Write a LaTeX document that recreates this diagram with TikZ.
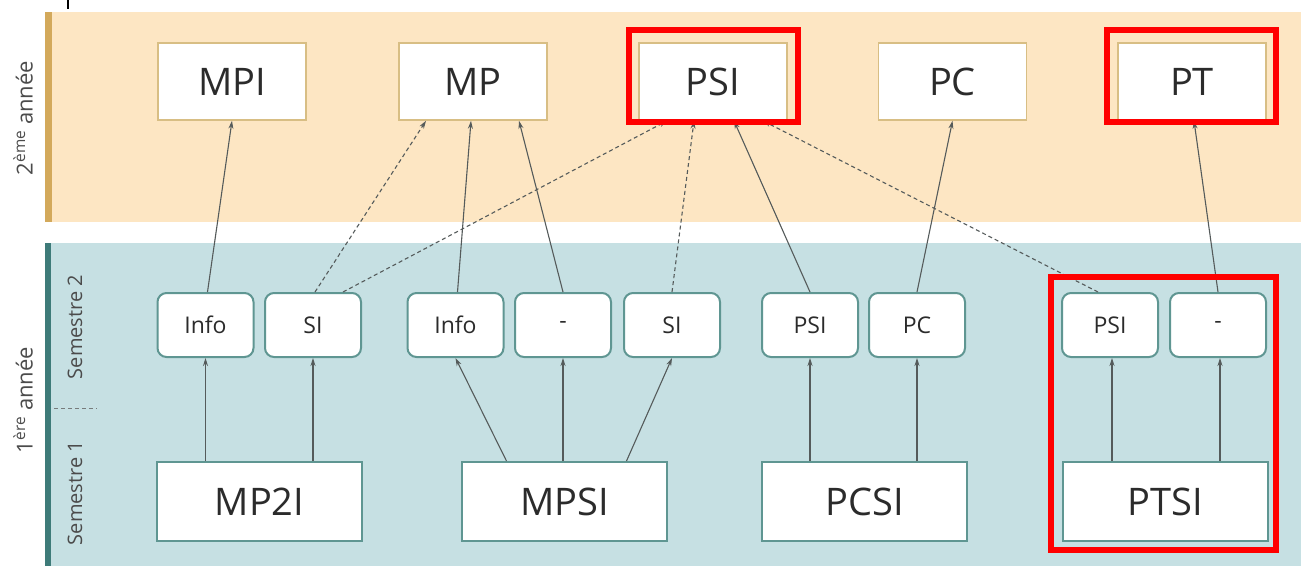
\documentclass[tikz,border=0pt]{standalone}
\usepackage{fontspec}
\setmainfont{Open Sans}
\usetikzlibrary{arrows.meta}
\definecolor{bandeA}{HTML}{FDE6C3}
\definecolor{barreA}{HTML}{D3A95B}
\definecolor{bandeB}{HTML}{C6E0E3}
\definecolor{barreB}{HTML}{3E7B79}
\definecolor{bordA}{HTML}{D8BE84}
\definecolor{bordB}{HTML}{5F9692}
\definecolor{trait}{HTML}{555B5B}
\definecolor{texte}{HTML}{2B2B2B}
\tikzset{
	annee/.style={draw=bordA, line width=1.6pt, fill=white, minimum width=148pt, minimum height=77pt, font=\fontsize{38}{40}\selectfont},
	prepa/.style={draw=bordB, line width=2pt, fill=white, minimum width=205pt, minimum height=79pt, font=\fontsize{38}{40}\selectfont},
	choix/.style={draw=bordB, line width=2pt, fill=white, rounded corners=9pt, minimum width=96pt, minimum height=64pt, font=\fontsize{23}{25}\selectfont},
	lien/.style={draw=trait, line width=1.1pt, -{Stealth[length=8pt,width=5pt]}},
	option/.style={lien, dash pattern=on 4pt off 3pt},
	cadre/.style={draw=red, line width=6pt},
	cote/.style={rotate=90, text=texte!85, font=\fontsize{22}{24}\selectfont}
}
\begin{document}
\begin{tikzpicture}[x=1pt, y=-1pt, text=texte]
	\useasboundingbox (0,0) rectangle (1301,566);
	\fill[bandeA] (45,12) rectangle (1301,222);
	\fill[barreA] (45,12) rectangle (52,222);
	\fill[bandeB] (45,243) rectangle (1301,566);
	\fill[barreB] (45,243) rectangle (51,566);
	\draw[line width=2pt] (68,0) -- (68,9);

	\node[cote] (an2) at (23,118) {2\textsuperscript{ème} année};
	\node[cote] (an1) at (23,400) {1\textsuperscript{ère} année};
	\node[cote, font=\fontsize{20}{22}\selectfont] (sem2) at (75,327) {Semestre 2};
	\node[cote, font=\fontsize{20}{22}\selectfont] (sem1) at (75,493) {Semestre 1};
	\draw[trait!80, line width=1pt, dash pattern=on 4pt off 3pt] (54,408) -- (97,408);

	\node[annee] (mpi) at (232,81.5) {MPI};
	\node[annee] (mp) at (473,81.5) {MP};
	\node[annee] (psi) at (713,81.5) {PSI};
	\node[annee] (pc) at (952.5,81.5) {PC};
	\node[annee] (pt) at (1192,81.5) {PT};

	\node[choix] (info1) at (205.5,325) {Info};
	\node[choix] (si1) at (313,325) {SI};
	\node[choix] (info2) at (455.5,325) {Info};
	\node[choix] (vide2) at (563,325) {-};
	\node[choix] (si2) at (672,325) {SI};
	\node[choix] (psi3) at (810,325) {PSI};
	\node[choix] (pc3) at (917,325) {PC};
	\node[choix] (psi4) at (1110,325) {PSI};
	\node[choix] (vide4) at (1218,325) {-};

	\node[prepa] (mp2i) at (259.5,501.5) {MP2I};
	\node[prepa] (mpsi) at (564.5,501.5) {MPSI};
	\node[prepa] (pcsi) at (864.5,501.5) {PCSI};
	\node[prepa] (ptsi) at (1165.5,501.5) {PTSI};

	\draw[lien] (mp2i.north -| info1) -- (info1.south);
	\draw[lien] (mp2i.north -| si1) -- (si1.south);
	\draw[lien] ([xshift=-58pt]mpsi.north) -- (info2.south);
	\draw[lien] (mpsi.north -| vide2) -- (vide2.south);
	\draw[lien] ([xshift=62pt]mpsi.north) -- (si2.south);
	\draw[lien] (pcsi.north -| psi3) -- (psi3.south);
	\draw[lien] (pcsi.north -| pc3) -- (pc3.south);
	\draw[lien] ([xshift=2pt]ptsi.north -| psi4) -- ([xshift=2pt]psi4.south);
	\draw[lien] ([xshift=2pt]ptsi.north -| vide4) -- ([xshift=2pt]vide4.south);

	\draw[lien] ([xshift=2pt]info1.north) -- (mpi.south);
	\draw[option] ([xshift=2pt]si1.north) -- ([xshift=-47pt]mp.south);
	\draw[option] ([xshift=30pt]si1.north) -- ([xshift=-46pt]psi.south);
	\draw[lien] ([xshift=2pt]info2.north) -- ([xshift=-2pt]mp.south);
	\draw[lien] (vide2.north) -- ([xshift=46pt]mp.south);
	\draw[option] (si2.north) -- ([xshift=-19pt]psi.south);
	\draw[lien] (psi3.north) -- ([xshift=21pt]psi.south);
	\draw[lien] (pc3.north) -- (pc.south);
	\draw[option] ([xshift=-12pt]psi4.north) -- ([xshift=50pt]psi.south);
	\draw[lien] (vide4.north) -- ([xshift=2pt]pt.south);

	\draw[cadre] (629,30) rectangle (798,122);
	\draw[cadre] (1107,30) rectangle (1276,122);
	\draw[cadre] (1051,277) rectangle (1276,550);
\end{tikzpicture}
\end{document}
